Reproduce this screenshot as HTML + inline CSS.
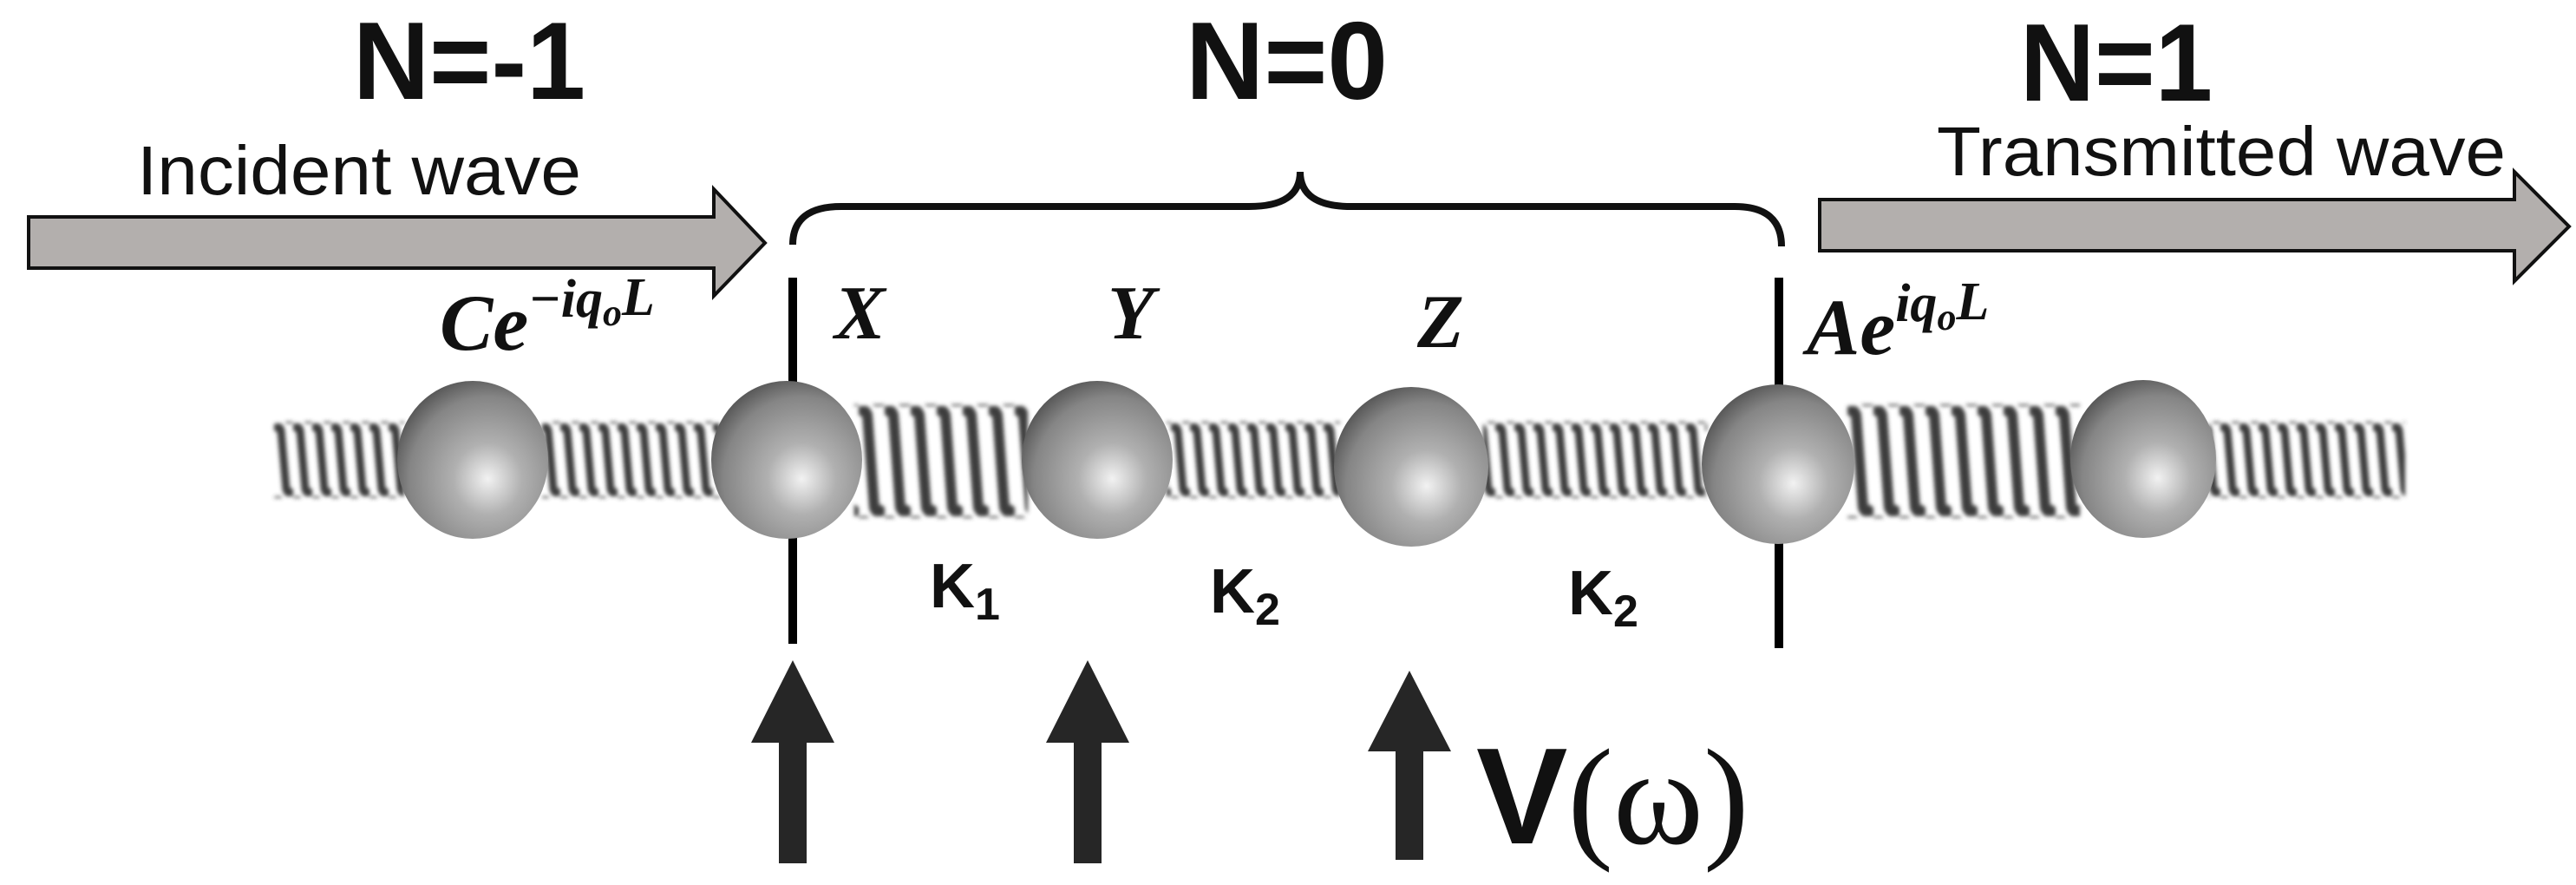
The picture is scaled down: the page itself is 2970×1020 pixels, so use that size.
<!DOCTYPE html>
<html><head><meta charset="utf-8"><style>
html,body{margin:0;padding:0;background:#fff}
svg{display:block}
</style></head><body>
<svg width="2970" height="1020" viewBox="0 0 2970 1020" xmlns="http://www.w3.org/2000/svg">
<defs>
<radialGradient id="ball" cx="0.6" cy="0.62" r="0.65" fx="0.6" fy="0.62">
<stop offset="0" stop-color="#f2f2f2"/>
<stop offset="0.35" stop-color="#b0b0b0"/>
<stop offset="0.8" stop-color="#858585"/>
<stop offset="1" stop-color="#5a5a5a"/>
</radialGradient>
<filter id="bl" x="-5%" y="-20%" width="110%" height="140%"><feGaussianBlur stdDeviation="2.5"/></filter>
<pattern id="sp1" width="22" height="84" patternUnits="userSpaceOnUse" x="316" y="488">
<path d="M0,8 Q5,0 8,8 L14,76 Q17,84 22,76" fill="none" stroke="#3e3e3e" stroke-width="9"/>
</pattern>
<pattern id="sp2" width="30" height="127" patternUnits="userSpaceOnUse" x="990" y="468">
<path d="M0,10 Q6,0 10,10 L18,117 Q22,127 30,117" fill="none" stroke="#3e3e3e" stroke-width="12"/>
</pattern>
</defs>

<g font-family="Liberation Sans, sans-serif" font-weight="bold" fill="#111">
<text x="407" y="114" font-size="127" textLength="268" lengthAdjust="spacingAndGlyphs">N=-1</text>
<text x="1367" y="114" font-size="127" textLength="233" lengthAdjust="spacingAndGlyphs">N=0</text>
<text x="2329" y="116" font-size="127" textLength="222" lengthAdjust="spacingAndGlyphs">N=1</text>
</g>
<g font-family="Liberation Sans, sans-serif" fill="#111">
<text x="158" y="224" font-size="80" textLength="512" lengthAdjust="spacingAndGlyphs">Incident wave</text>
<text x="2233" y="202" font-size="80" textLength="656" lengthAdjust="spacingAndGlyphs">Transmitted wave</text>
</g>

<polygon points="33,250 823,250 823,218 882,280 823,341 823,309 33,309" fill="#b3afad" stroke="#111" stroke-width="4"/>
<polygon points="2098,230 2899,230 2899,198 2962,261 2899,324 2899,289 2098,289" fill="#b3afad" stroke="#111" stroke-width="4"/>

<path d="M914,282 Q914,238 970,238 L1440,238 Q1499,238 1499,198 Q1499,238 1558,238 L2000,238 Q2054,238 2054,284" fill="none" stroke="#111" stroke-width="8"/>

<rect x="909" y="320" width="10" height="422" fill="#000"/>
<rect x="2046" y="320" width="10" height="427" fill="#000"/>

<g filter="url(#bl)">
<rect x="316" y="486" width="150" height="88" fill="url(#sp1)"/>
<rect x="625" y="486" width="205" height="88" fill="url(#sp1)"/>
<rect x="985" y="466" width="200" height="131" fill="url(#sp2)"/>
<rect x="1345" y="486" width="200" height="88" fill="url(#sp1)"/>
<rect x="1710" y="486" width="258" height="88" fill="url(#sp1)"/>
<rect x="2130" y="466" width="268" height="131" fill="url(#sp2)"/>
<rect x="2545" y="486" width="228" height="88" fill="url(#sp1)"/>
</g>

<g fill="url(#ball)">
<ellipse cx="545" cy="530" rx="87" ry="91"/>
<ellipse cx="907" cy="530" rx="87" ry="91"/>
<ellipse cx="1265" cy="530" rx="87" ry="91"/>
<ellipse cx="1627" cy="538" rx="89" ry="92"/>
<ellipse cx="2050" cy="535" rx="88" ry="92"/>
<ellipse cx="2471" cy="529" rx="84" ry="91"/>
</g>

<g font-family="Liberation Serif, serif" font-style="italic" font-weight="bold" fill="#111">
<text x="507" y="403" font-size="92">Ce<tspan font-size="62" dy="-38">−iq</tspan><tspan font-size="44" dy="10">o</tspan><tspan font-size="62" dy="-12">L</tspan></text>
<text x="2083" y="408" font-size="92">Ae<tspan font-size="62" dy="-38">iq</tspan><tspan font-size="44" dy="10">o</tspan><tspan font-size="62" dy="-12">L</tspan></text>
<text x="962" y="390" font-size="88">X</text>
<text x="1277" y="390" font-size="88">Y</text>
<text x="1634" y="400" font-size="88">Z</text>
</g>

<g font-family="Liberation Sans, sans-serif" fill="#111" font-weight="bold">
<text x="1072" y="700" font-size="72">K<tspan font-size="52" dy="14">1</tspan></text>
<text x="1395" y="706" font-size="72">K<tspan font-size="52" dy="14">2</tspan></text>
<text x="1808" y="708" font-size="72">K<tspan font-size="52" dy="14">2</tspan></text>
</g>

<g fill="#262626">
<polygon points="914,761 962,856 930,856 930,995 898,995 898,856 866,856"/>
<polygon points="1254,761 1302,856 1270,856 1270,995 1238,995 1238,856 1206,856"/>
<polygon points="1625,773 1673,866 1641,866 1641,991 1609,991 1609,866 1577,866"/>
</g>
<text x="1702" y="972" font-family="Liberation Sans, sans-serif" font-size="158" fill="#111"><tspan font-weight="bold">V</tspan><tspan font-family="Liberation Serif, serif">(ω)</tspan></text>
</svg>
</body></html>
